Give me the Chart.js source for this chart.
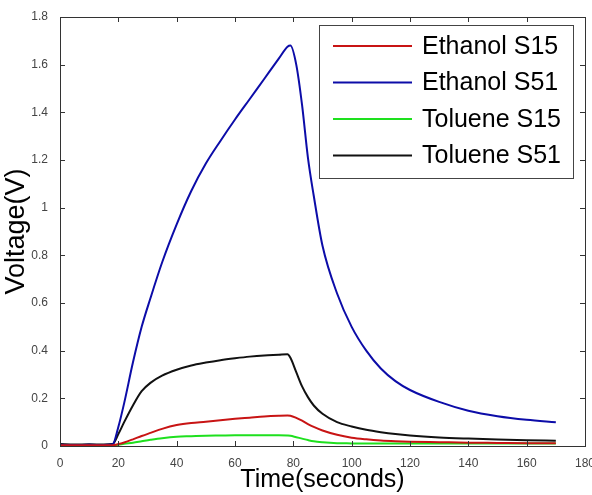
<!DOCTYPE html>
<html>
<head>
<meta charset="utf-8">
<script src="https://cdn.jsdelivr.net/npm/chart.js@4.4.1/dist/chart.umd.min.js"></script>
<style>
  html, body { margin: 0; padding: 0; background: #fff; }
  #wrap { width: 592px; height: 495px; position: relative; }
</style>
</head>
<body>
<div id="wrap"><canvas id="sensorChart"></canvas></div>
<script>
// --- data ---
const times = [0,5,10,15,18,20,22,25,28,31,35,40,45,50,55,60,65,70,75,78,79,81,83,85,87,90,95,100,105,110,115,120,130,140,150,160,170];

const ethanolS15 = [0.003,0.003,0.003,0.003,0.003,0.008,0.015,0.028,0.042,0.055,0.072,0.088,0.097,0.102,0.108,0.114,0.119,0.124,0.127,0.128,0.127,0.118,0.106,0.092,0.08,0.065,0.047,0.035,0.028,0.023,0.02,0.018,0.016,0.014,0.013,0.012,0.012];
const ethanolS51 = [0.005,0.004,0.005,0.004,0.006,0.08,0.18,0.35,0.50,0.62,0.77,0.93,1.07,1.185,1.28,1.37,1.455,1.54,1.625,1.675,1.68,1.60,1.43,1.21,1.05,0.84,0.64,0.50,0.40,0.325,0.272,0.235,0.185,0.148,0.125,0.11,0.10];
const tolueneS15 = [0.002,0.002,0.002,0.002,0.002,0.005,0.009,0.014,0.02,0.026,0.033,0.039,0.041,0.043,0.044,0.045,0.045,0.045,0.045,0.044,0.043,0.037,0.031,0.025,0.02,0.016,0.012,0.011,0.01,0.01,0.01,0.01,0.01,0.01,0.01,0.01,0.01];
const tolueneS51 = [0.008,0.006,0.007,0.006,0.008,0.05,0.10,0.17,0.23,0.265,0.295,0.32,0.338,0.35,0.36,0.368,0.375,0.38,0.383,0.385,0.37,0.31,0.25,0.205,0.17,0.135,0.10,0.082,0.068,0.058,0.05,0.044,0.036,0.031,0.027,0.024,0.022];

const seriesNames = ['Ethanol S15','Ethanol S51','Toluene S15','Toluene S51'];
const xTicks = [0,20,40,60,80,100,120,140,160,180];
const yTicks = [0,0.2,0.4,0.6,0.8,1,1.2,1.4,1.6,1.8];

const colors = ['#c81414','#0c0ca8','#1ee01e','#111111'];
const pts = arr => arr.map((v, i) => ({ x: times[i], y: v }));

// MATLAB-style box with inward ticks on all four sides
const boxFrame = {
    id: 'boxFrame',
    afterDraw(chart) {
        const { ctx, chartArea: a, scales } = chart;
        ctx.save();
        ctx.strokeStyle = '#333';
        ctx.lineWidth = 1;
        ctx.strokeRect(a.left + 0.5, a.top + 0.5, a.right - a.left, a.bottom - a.top);
        ctx.beginPath();
        xTicks.forEach(t => {
            const x = Math.round(scales.x.getPixelForValue(t)) + 0.5;
            ctx.moveTo(x, a.bottom); ctx.lineTo(x, a.bottom - 5);
            ctx.moveTo(x, a.top); ctx.lineTo(x, a.top + 5);
        });
        yTicks.forEach(t => {
            const y = Math.round(scales.y.getPixelForValue(t)) + 0.5;
            ctx.moveTo(a.left, y); ctx.lineTo(a.left + 5, y);
            ctx.moveTo(a.right, y); ctx.lineTo(a.right - 5, y);
        });
        ctx.stroke();
        ctx.restore();
    }
};

// legend box in the upper right corner of the plot
const boxLegend = {
    id: 'boxLegend',
    afterDraw(chart) {
        const { ctx } = chart;
        const left = 319, top = 25, w = 254, h = 153;
        ctx.save();
        ctx.fillStyle = '#fff';
        ctx.fillRect(left, top, w, h);
        ctx.strokeStyle = '#444';
        ctx.lineWidth = 1;
        ctx.strokeRect(left + 0.5, top + 0.5, w, h);
        ctx.font = '25px "Liberation Sans", Arial, sans-serif';
        ctx.textBaseline = 'middle';
        chart.data.datasets.forEach((ds, i) => {
            const y = 46 + i * 36.5;
            ctx.strokeStyle = ds.borderColor;
            ctx.lineWidth = 2;
            ctx.beginPath();
            ctx.moveTo(333, y); ctx.lineTo(412, y);
            ctx.stroke();
            ctx.fillStyle = '#000';
            ctx.fillText(ds.label, 422, y + 1);
        });
        ctx.restore();
    }
};

const tickFont = { family: '"Liberation Sans Narrow", "Arial Narrow", "Liberation Sans", sans-serif', size: 12 };

new Chart(document.getElementById('sensorChart'), {
    type: 'line',
    data: {
        datasets: [ethanolS15, ethanolS51, tolueneS15, tolueneS51].map((arr, i) => ({
            label: seriesNames[i],
            data: pts(arr),
            borderColor: colors[i],
            borderWidth: 2,
            pointRadius: 0,
            cubicInterpolationMode: 'monotone',
            fill: false
        }))
    },
    options: {
        responsive: true,
        maintainAspectRatio: false,
        animation: false,
        layout: { padding: { left: 0, right: 7, top: 17, bottom: 0 } },
        plugins: { legend: { display: false }, tooltip: { enabled: false } },
        scales: {
            x: {
                type: 'linear', min: 0, max: 180,
                afterBuildTicks: s => { s.ticks = xTicks.map(v => ({ value: v })); },
                afterFit: s => { s.height = 49; s.paddingLeft = 0; s.paddingRight = 0; },
                grid: { display: false },
                border: { display: false },
                ticks: { color: '#444', font: tickFont, padding: 2, maxRotation: 0, autoSkip: false,
                         callback: v => String(v) },
                title: { display: true, text: 'Time(seconds)', color: '#000', padding: { top: 0, bottom: 0 },
                         font: { family: '"Liberation Sans", Arial, sans-serif', size: 25 } }
            },
            y: {
                min: 0, max: 1.8,
                afterBuildTicks: s => { s.ticks = yTicks.map(v => ({ value: v })); },
                afterFit: s => { s.width = 60; s.paddingTop = 0; s.paddingBottom = 0; },
                grid: { display: false },
                border: { display: false },
                ticks: { color: '#444', font: tickFont, padding: 4, autoSkip: false,
                         callback: v => String(v) },
                title: { display: true, text: 'Voltage(V)', color: '#000', padding: { top: 0, bottom: 4 },
                         font: { family: '"Liberation Sans", Arial, sans-serif', size: 27 } }
            }
        }
    },
    plugins: [boxFrame, boxLegend]
});
</script>
</body>
</html>
